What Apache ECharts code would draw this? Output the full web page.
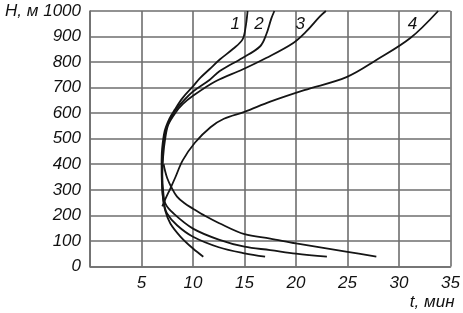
<!DOCTYPE html>
<html>
<head>
<meta charset="utf-8">
<script src="https://cdn.jsdelivr.net/npm/echarts@6/dist/echarts.min.js"></script>
<style>
html,body{margin:0;padding:0;background:#fff;}
#c{width:463px;height:313px;}
</style>
</head>
<body>
<div id="c"></div>
<script>
// axis ticks
const xTicks = [0, 5, 10, 15, 20, 25, 30, 35];
const yTicks = [0, 100, 200, 300, 400, 500, 600, 700, 800, 900, 1000];
const xTitle = 't, мин';
const yTitle = 'H, м';

// curves: [t (min), H (m)]
const curve1 = [[11.0,38],[10.0,70],[8.8,116],[7.8,168],[7.3,219],[7.08,271],[6.98,330],[6.95,400],[7.0,460],[7.25,530],[7.7,578],[8.2,612],[9.0,660],[10.0,705],[10.7,738],[11.6,772],[12.6,810],[13.9,852],[14.8,888],[15.1,935],[15.3,1000]];
const curve2 = [[17.0,38],[15.0,51],[12.5,75],[10.0,116],[8.45,161],[7.48,207],[7.15,252],[7.03,300],[7.0,360],[7.05,430],[7.2,500],[7.5,550],[8.1,600],[9.0,645],[10.0,685],[11.6,730],[12.6,765],[14.8,816],[16.5,861],[17.1,907],[17.6,970],[17.9,1000]];
const curve3 = [[23.0,38],[20.0,50],[17.5,64],[15.0,77],[12.5,105],[10.0,148],[8.12,207],[7.33,245],[7.1,297],[7.02,360],[7.1,430],[7.3,500],[7.6,555],[8.3,602],[9.0,635],[10.0,668],[12.2,725],[14.8,771],[17.1,816],[19.7,874],[21.0,920],[22.3,978],[22.9,1000]];
const curve4Lower = [[27.8,38],[25.0,57],[20.0,90],[17.5,109],[15.0,126],[12.5,170],[11.2,197],[10.0,226],[9.15,248],[8.45,273],[7.9,310],[7.5,345],[7.25,380],[7.15,400]];
const curve4Upper = [[7.02,235],[7.3,262],[7.8,305],[8.3,350],[9.0,415],[10.2,485],[11.7,545],[13.0,578],[15.0,605],[17.5,645],[20.8,690],[24.9,741],[27.8,808],[31.1,894],[33.8,1000]];

// curve labels
const labelNames = ['1', '2', '3', '4'];
const labelT = [14.1, 16.4, 20.4, 31.3];
const labelH = [948, 948, 950, 948];

const FONT = "'Liberation Sans', Arial, sans-serif";
const lineStyle = {color: '#151515', width: 1.8};
const gridColor = '#6e6e6e';
const textColor = '#111';

function curveSeries(data) {
  return {type: 'line', data: data, smooth: 0.35, symbol: 'none', lineStyle: lineStyle, silent: true, z: 3};
}

const chart = echarts.init(document.getElementById('c'), null, {renderer: 'canvas'});
chart.setOption({
  animation: false,
  backgroundColor: '#fff',
  grid: {left: 90, right: 12.5, top: 11, bottom: 46.6},
  xAxis: {
    type: 'value', min: xTicks[0], max: xTicks[xTicks.length - 1], interval: 5,
    name: xTitle, nameLocation: 'end', nameGap: 0,
    nameTextStyle: {fontFamily: FONT, fontStyle: 'italic', fontSize: 17, color: textColor, align: 'right', verticalAlign: 'top', padding: [27, -4, 0, 0]},
    axisLine: {show: true, lineStyle: {color: gridColor, width: 1.6}},
    axisTick: {show: false},
    splitLine: {show: true, lineStyle: {color: gridColor, width: 1.6}},
    axisLabel: {fontFamily: FONT, fontStyle: 'italic', fontSize: 17, color: textColor, margin: 8,
      formatter: v => v === 0 ? '' : String(v)}
  },
  yAxis: {
    type: 'value', min: yTicks[0], max: yTicks[yTicks.length - 1], interval: 100,
    axisLine: {show: true, lineStyle: {color: gridColor, width: 1.6}},
    axisTick: {show: false},
    splitLine: {show: true, lineStyle: {color: gridColor, width: 1.6}},
    axisLabel: {fontFamily: FONT, fontStyle: 'italic', fontSize: 17, color: textColor, margin: 9,
      formatter: v => v === 1000 ? yTitle + ' ' + v : String(v)}
  },
  series: [
    curveSeries(curve1),
    curveSeries(curve2),
    curveSeries(curve3),
    curveSeries(curve4Lower),
    curveSeries(curve4Upper)
  ]
});

// curve number labels placed through the chart's own scales
chart.setOption({
  graphic: labelNames.map((n, i) => {
    const p = chart.convertToPixel({gridIndex: 0}, [labelT[i], labelH[i]]);
    return {
      type: 'text', x: p[0], y: p[1], z: 10, silent: true,
      style: {text: n, fill: textColor, font: 'italic 17px ' + FONT, align: 'center', verticalAlign: 'middle'}
    };
  })
});
</script>
</body>
</html>
